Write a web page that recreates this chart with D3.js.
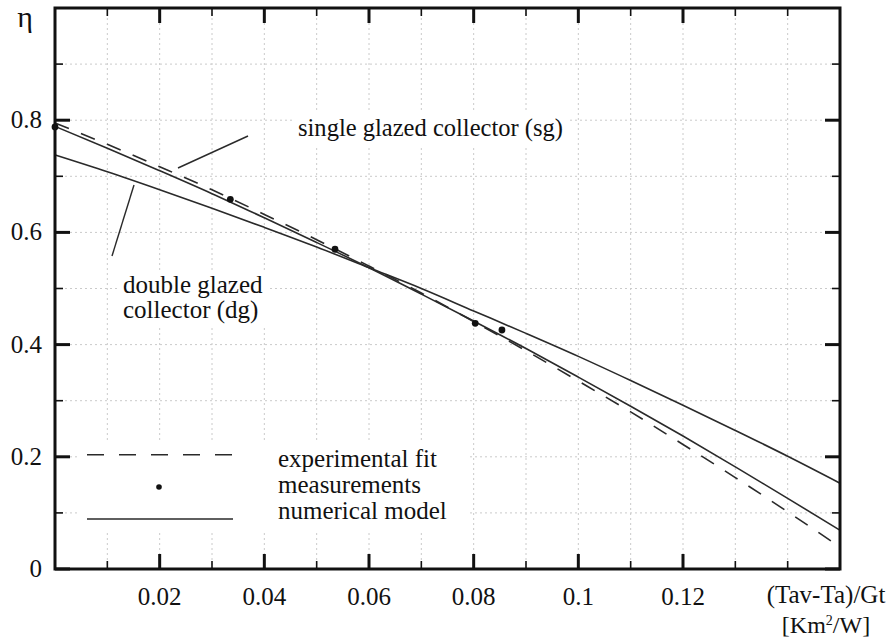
<!DOCTYPE html>
<html>
<head>
<meta charset="utf-8">
<script src="https://cdn.jsdelivr.net/npm/d3@7"></script>
<style>
  html, body { margin: 0; padding: 0; background: #fff; }
  svg { display: block; }
  text { font-family: "Liberation Serif", "Times New Roman", serif; fill: #111; }
</style>
</head>
<body>
<svg id="chart" width="893" height="639"></svg>
<script>
// Collector efficiency vs. reduced temperature difference
const xSamples = [0, 0.01, 0.02, 0.03, 0.04, 0.05, 0.06, 0.07, 0.08, 0.09, 0.10, 0.11, 0.12, 0.13, 0.14, 0.15];
const sgModel  = [0.789, 0.750, 0.710, 0.669, 0.626, 0.582, 0.537, 0.490, 0.442, 0.393, 0.342, 0.290, 0.237, 0.182, 0.126, 0.069];
const dgModel  = [0.738, 0.708, 0.676, 0.643, 0.609, 0.574, 0.537, 0.500, 0.460, 0.420, 0.379, 0.336, 0.292, 0.247, 0.201, 0.153];
const expFit   = [0.795, 0.757, 0.717, 0.676, 0.632, 0.587, 0.540, 0.492, 0.441, 0.389, 0.335, 0.280, 0.222, 0.163, 0.102, 0.039];

const measX = [0, 0.0335, 0.0535, 0.0803, 0.0854];
const measY = [0.788, 0.659, 0.570, 0.438, 0.426];

const xMajorTicks = [0.02, 0.04, 0.06, 0.08, 0.1, 0.12];
const xMajorLabels = ["0.02", "0.04", "0.06", "0.08", "0.1", "0.12"];
const xMinorTicks = [0.01, 0.03, 0.05, 0.07, 0.09, 0.11, 0.13, 0.14];
const xGridTicks = [0.01, 0.02, 0.03, 0.04, 0.05, 0.06, 0.07, 0.08, 0.09, 0.10, 0.11, 0.12, 0.13, 0.14];
const yMajorTicks = [0, 0.2, 0.4, 0.6, 0.8];
const yMajorLabels = ["0", "0.2", "0.4", "0.6", "0.8"];
const yMinorTicks = [0.1, 0.3, 0.5, 0.7, 0.9];
const yGridTicks = [0.1, 0.2, 0.3, 0.4, 0.5, 0.6, 0.7, 0.8, 0.9];

const legendLabels = ["experimental fit", "measurements", "numerical model"];

const svg = d3.select("#chart");
const L = 55, R = 840, T = 8, B = 569;
const x = d3.scaleLinear().domain([0, 0.15]).range([L, R]);
const y = d3.scaleLinear().domain([0, 1]).range([B, T]);
const FS = 25;

// grid
const grid = svg.append("g").attr("stroke", "#cacaca").attr("stroke-width", 1).attr("stroke-dasharray", "2,3");
grid.selectAll("line.v").data(xGridTicks).join("line")
  .attr("x1", d => x(d)).attr("x2", d => x(d)).attr("y1", T).attr("y2", B);
grid.selectAll("line.h").data(yGridTicks).join("line")
  .attr("y1", d => y(d)).attr("y2", d => y(d)).attr("x1", L).attr("x2", R);

// cleared areas behind annotations and key
svg.append("rect").attr("x", 292).attr("y", 112).attr("width", 278).attr("height", 34).attr("fill", "#fff");
svg.append("rect").attr("x", 118).attr("y", 272).attr("width", 150).attr("height", 54).attr("fill", "#fff");
svg.append("rect").attr("x", 78).attr("y", 440).attr("width", 392).attr("height", 92).attr("fill", "#fff");

// curves
const pts = arr => xSamples.map((xv, i) => [xv, arr[i]]);
const line = d3.line().x(d => x(d[0])).y(d => y(d[1])).curve(d3.curveMonotoneX);
const curveStyle = sel => sel.attr("fill", "none").attr("stroke", "#2a2a2a").attr("stroke-width", 1.6);

svg.append("path").datum(pts(dgModel)).attr("d", line).call(curveStyle);
svg.append("path").datum(pts(sgModel)).attr("d", line).call(curveStyle);
svg.append("path").datum(pts(expFit)).attr("d", line).call(curveStyle).attr("stroke-dasharray", "15,13");

// measurements
svg.selectAll("circle.m").data(measX.map((v, i) => [v, measY[i]])).join("circle")
  .attr("cx", d => x(d[0])).attr("cy", d => y(d[1])).attr("r", 3.4).attr("fill", "#111");

// pointer lines for curve labels
svg.append("line").attr("x1", 178).attr("y1", 168).attr("x2", 248).attr("y2", 136).attr("stroke", "#2a2a2a").attr("stroke-width", 1.4);
svg.append("line").attr("x1", 112).attr("y1", 256).attr("x2", 134).attr("y2", 185).attr("stroke", "#2a2a2a").attr("stroke-width", 1.4);

svg.append("text").attr("x", 298).attr("y", 136).attr("font-size", FS)
  .attr("textLength", 265).attr("lengthAdjust", "spacingAndGlyphs").text("single glazed collector (sg)");
svg.append("text").attr("x", 123).attr("y", 293).attr("font-size", FS).text("double glazed");
svg.append("text").attr("x", 123).attr("y", 318).attr("font-size", FS).text("collector (dg)");

// key
const keyY = [y(0.2) - 2, 487, 519];
svg.append("line").attr("x1", 87).attr("x2", 233).attr("y1", keyY[0]).attr("y2", keyY[0])
  .call(curveStyle).attr("stroke-dasharray", "17,15");
svg.append("circle").attr("cx", 159).attr("cy", keyY[1]).attr("r", 2.8).attr("fill", "#111");
svg.append("line").attr("x1", 87).attr("x2", 233).attr("y1", keyY[2]).attr("y2", keyY[2]).call(curveStyle);
svg.selectAll("text.key").data(legendLabels).join("text")
  .attr("x", 278).attr("y", (d, i) => 467 + i * 26).attr("font-size", FS).text(d => d);

// ticks (inward, on all four sides)
const tickG = svg.append("g").attr("stroke", "#111");
const majLen = 15, minLen = 8;
xMajorTicks.forEach(v => {
  tickG.append("line").attr("x1", x(v)).attr("x2", x(v)).attr("y1", B).attr("y2", B - majLen).attr("stroke-width", 3);
  tickG.append("line").attr("x1", x(v)).attr("x2", x(v)).attr("y1", T).attr("y2", T + majLen).attr("stroke-width", 3);
});
xMinorTicks.forEach(v => {
  tickG.append("line").attr("x1", x(v)).attr("x2", x(v)).attr("y1", B).attr("y2", B - minLen).attr("stroke-width", 1.6);
  tickG.append("line").attr("x1", x(v)).attr("x2", x(v)).attr("y1", T).attr("y2", T + minLen).attr("stroke-width", 1.6);
});
yMajorTicks.forEach(v => {
  tickG.append("line").attr("y1", y(v)).attr("y2", y(v)).attr("x1", L).attr("x2", L + majLen).attr("stroke-width", 3);
  tickG.append("line").attr("y1", y(v)).attr("y2", y(v)).attr("x1", R).attr("x2", R - majLen).attr("stroke-width", 3);
});
yMinorTicks.forEach(v => {
  tickG.append("line").attr("y1", y(v)).attr("y2", y(v)).attr("x1", L).attr("x2", L + minLen).attr("stroke-width", 1.6);
  tickG.append("line").attr("y1", y(v)).attr("y2", y(v)).attr("x1", R).attr("x2", R - minLen).attr("stroke-width", 1.6);
});

// frame
svg.append("rect").attr("x", L).attr("y", T).attr("width", R - L).attr("height", B - T)
  .attr("fill", "none").attr("stroke", "#111").attr("stroke-width", 3);

// tick labels
svg.selectAll("text.xl").data(xMajorTicks).join("text")
  .attr("x", d => x(d)).attr("y", 605).attr("text-anchor", "middle").attr("font-size", FS)
  .text((d, i) => xMajorLabels[i]);
svg.selectAll("text.yl").data(yMajorTicks).join("text")
  .attr("x", 42).attr("y", d => y(d) + 8).attr("text-anchor", "end").attr("font-size", FS)
  .text((d, i) => yMajorLabels[i]);

// axis titles
svg.append("text").attr("x", 25).attr("y", 27).attr("text-anchor", "middle").attr("font-size", 30).text("η");
svg.append("text").attr("x", 826).attr("y", 603).attr("text-anchor", "middle").attr("font-size", FS).text("(Tav-Ta)/Gt");
const unit = svg.append("text").attr("x", 826).attr("y", 633).attr("text-anchor", "middle").attr("font-size", 24);
unit.append("tspan").text("[Km");
unit.append("tspan").attr("font-size", 14).attr("dy", -8).text("2");
unit.append("tspan").attr("dy", 8).text("/W]");
</script>
</body>
</html>
